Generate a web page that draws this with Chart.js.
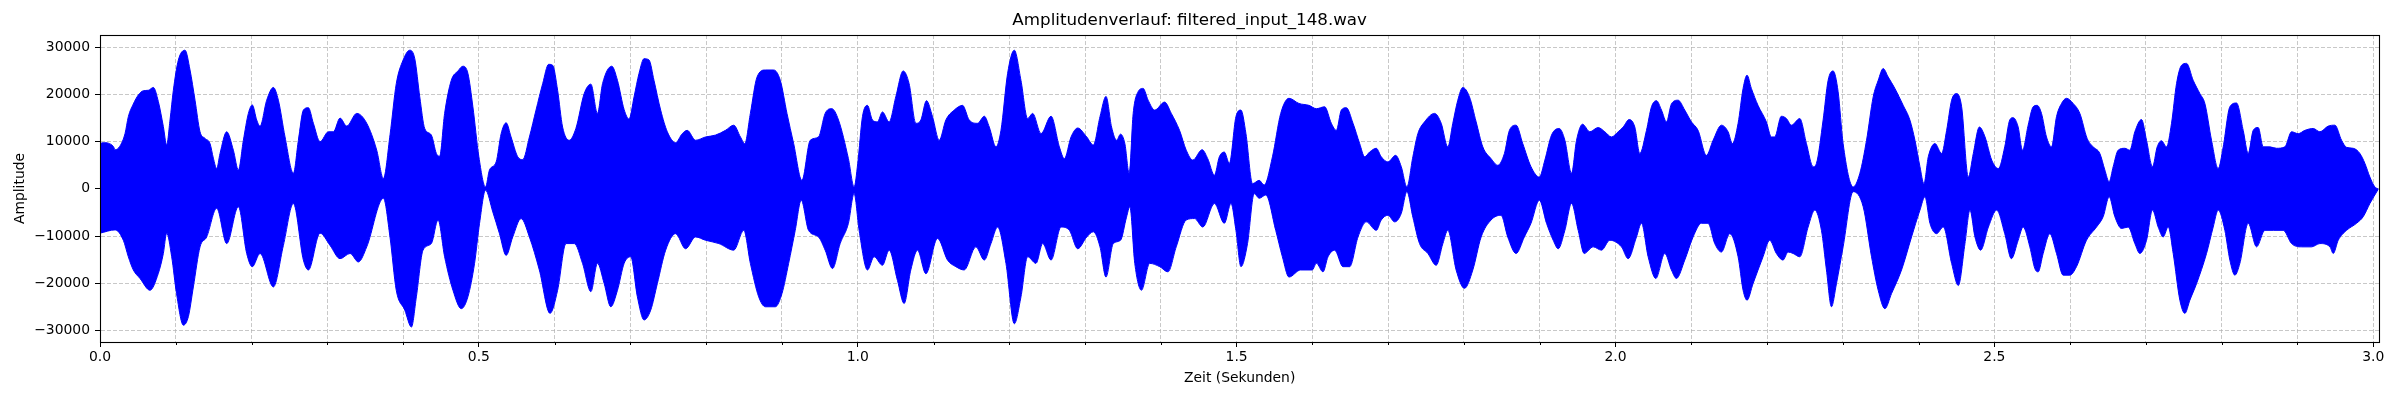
<!DOCTYPE html>
<html>
<head>
<meta charset="utf-8">
<script src="https://cdn.jsdelivr.net/npm/chart.js@4.4.1/dist/chart.umd.min.js"></script>
<style>
  html, body { margin: 0; padding: 0; background: #ffffff; }
  canvas { display: block; }
</style>
</head>
<body>
<canvas id="c" width="2400" height="400"></canvas>
<script>
// ---- Data (envelope of the waveform) ----
const chartTitle = 'Amplitudenverlauf: filtered_input_148.wav';
const xAxisLabel = 'Zeit (Sekunden)';
const yAxisLabel = 'Amplitude';

const xTickLabels = ['0.0', '0.5', '1.0', '1.5', '2.0', '2.5', '3.0'];
const yTickValues = [-30000, -20000, -10000, 0, 10000, 20000, 30000];
const yTickLabels = ['\u221230000', '\u221220000', '\u221210000', '0', '10000', '20000', '30000'];

const upperTimes = [
0.000,0.0044,0.0176,0.020,0.026,0.033,0.0374,0.044,0.0506,0.0572,0.0638,0.0704,0.077,0.0836,0.088,0.0924,0.0968,0.1034,0.1122,0.1188,
0.1254,0.132,0.1386,0.1452,0.1496,0.154,0.1584,0.1672,0.176,0.1826,0.1892,0.1958,0.201,0.2068,0.2112,0.22,0.2288,0.2354,0.2442,0.2552,
0.2618,0.2684,0.275,0.2816,0.2904,0.3014,0.308,0.3168,0.3256,0.3388,0.352,0.3652,0.374,0.3828,0.391,0.400,0.4088,0.4154,0.422,0.4285,
0.4373,0.4439,0.4482,0.4548,0.4636,0.4724,0.479,0.4855,0.4921,0.500,0.5088,0.514,0.5228,0.5294,0.536,0.5425,0.5513,0.5579,0.5667,0.5754,
0.5842,0.5921,0.5974,0.6039,0.6105,0.6193,0.628,0.639,0.6478,0.6565,0.6632,0.6754,0.6829,0.6917,0.6982,0.7048,0.7114,0.718,0.7246,0.7311,
0.7399,0.7487,0.7596,0.7684,0.775,0.786,0.7991,0.8123,0.8254,0.8364,0.8452,0.8509,0.8583,0.8671,0.8781,0.8890,0.8978,0.9066,0.9154,0.9263,
0.9373,0.9482,0.957,0.9658,0.9746,0.9877,0.9952,1.0,1.0062,1.0128,1.0194,1.026,1.0326,1.0414,1.0502,1.0599,1.0678,1.0767,1.0833,1.0907,
1.0987,1.1075,1.1163,1.1273,1.1383,1.1471,1.1581,1.167,1.1736,1.1824,1.189,1.1978,1.2066,1.2154,1.2242,1.2308,1.2419,1.2551,1.2661,1.2727,
1.2815,1.2903,1.3022,1.3109,1.3197,1.3276,1.335,1.3416,1.3468,1.3525,1.3582,1.3635,1.37,1.3766,1.3832,1.3919,1.405,1.4138,1.4247,1.4335,
1.4422,1.4545,1.4619,1.4707,1.4772,1.4838,1.4904,1.4991,1.5057,1.5123,1.521,1.5298,1.5363,1.5473,1.5582,1.5691,1.5823,1.5954,1.6053,1.6162,
1.625,1.6316,1.6382,1.6448,1.6536,1.6624,1.669,1.6755,1.6843,1.6909,1.6997,1.7098,1.7173,1.7247,1.7326,1.7392,1.748,1.7612,1.77,1.7787,
1.7853,1.7919,1.7985,1.8073,1.8161,1.8249,1.8358,1.8446,1.8534,1.86,1.8688,1.8776,1.8885,1.8995,1.9068,1.9156,1.9257,1.9332,1.942,1.9486,
1.9565,1.9662,1.9771,1.9859,1.9947,2.0035,2.0101,2.018,2.0255,2.0321,2.0409,2.0475,2.0541,2.0607,2.0673,2.0738,2.0826,2.0914,2.1002,2.109,
2.12,2.1288,2.1398,2.1486,2.1543,2.1618,2.1684,2.1736,2.1793,2.1881,2.1991,2.2057,2.2101,2.2189,2.2256,2.2322,2.2432,2.252,2.2608,2.2652,
2.274,2.2806,2.2872,2.2938,2.3004,2.3137,2.3225,2.3313,2.3401,2.3467,2.3533,2.3599,2.3687,2.3797,2.3885,2.3952,2.4018,2.407,2.4128,2.4216,
2.4304,2.437,2.4436,2.4502,2.4568,2.4656,2.4722,2.4802,2.4877,2.4965,2.5053,2.5137,2.5203,2.5247,2.5314,2.5371,2.5446,2.5512,2.5564,2.5622,
2.5688,2.5754,2.582,2.5886,2.5952,2.604,2.6128,2.6224,2.6304,2.6392,2.6458,2.6515,2.6568,2.6634,2.6722,2.6788,2.6854,2.6942,2.7008,2.7087,
2.7149,2.7206,2.7272,2.7338,2.7404,2.747,2.7536,2.7624,2.7712,2.7778,2.7866,2.7954,2.802,2.8108,2.8196,2.8284,2.835,2.8416,2.8482,2.8548,
2.8636,2.8724,2.8834,2.8922,2.901,2.9098,2.9208,2.9296,2.9406,2.9494,2.9582,2.9648,2.9736,2.9824,2.989,2.9956,3.0022,3.0066];

const upperValues = [
9600,9800,9000,8300,9000,11700,15300,18000,19900,20800,20900,21500,18500,13200,9300,14600,20900,27300,29400,25200,
18800,12100,10700,9600,6500,4300,7500,12100,8200,4000,10300,16000,17800,14600,13300,18800,21500,18800,11000,3300,
10300,16700,17200,13900,10000,12100,12100,15000,13300,16000,13900,8200,2200,11500,22300,27300,29400,27600,19500,12800,
11400,7500,6900,16000,23000,25000,26000,24500,17400,6800,400,4000,5700,11700,14000,11000,6800,6200,11000,16700,
22300,26400,26200,20900,13100,10300,12800,20200,22200,16000,22300,26000,23000,16800,14800,19500,24500,27600,27300,23000,
16700,12100,9800,11700,12400,10300,11000,11400,12400,13500,11000,9600,16000,23700,25200,25200,23000,16000,9600,1800,
10300,11000,16000,17000,14600,6400,400,5400,15300,17700,14600,14200,16300,14200,19500,25000,22300,13900,14600,18700,
15300,10300,14600,16700,17700,14600,13900,15400,13100,8900,12400,24500,29400,23000,14900,16000,11700,15400,8900,6400,
11000,12900,11000,9300,15300,19600,13100,10300,11600,9600,3300,16000,20600,21300,18800,16700,18400,16000,12400,8200,
6100,8300,6400,2900,6800,7800,5400,15300,16700,11700,1100,1800,800,6800,16000,19200,18100,17700,17000,17400,
13900,12400,16700,17200,13900,9600,6800,7800,8600,6800,5700,7100,4700,400,6800,11700,14200,16000,13900,8900,
13900,18800,21500,19500,14200,8900,6400,5000,7500,12400,13500,9600,4700,2500,6100,11400,12800,10300,3300,10300,
13700,12100,13000,12100,11000,12100,13100,14700,13100,7500,12400,17400,18700,16700,14200,18000,18800,16700,14200,12400,
7100,10300,13500,12100,9600,13900,21300,24100,21300,17700,14200,11000,11000,15400,14900,13500,14900,9600,4700,5400,
14600,23000,25000,20600,9600,400,3300,10300,19500,23000,25500,23700,21300,17700,14600,10300,4700,1100,6800,9600,
7500,12400,18800,20200,17400,2500,7500,13100,11000,6100,4300,8900,14600,15100,13100,8200,13500,17400,17700,16000,
11000,8900,15300,18100,19200,18100,16000,10700,8900,7500,4000,1500,4700,8200,8600,8200,12100,14700,10300,4700,
8900,10200,8900,13900,22300,26200,26600,23000,20200,18100,10300,4300,8900,17400,18200,12400,7500,12400,13000,8900,
8900,8600,8900,12100,11700,12400,12800,12100,13300,13500,10300,8800,8600,7500,5400,2500,400,0];

const lowerTimes = [
0.000,0.020,0.0308,0.0374,0.044,0.0528,0.066,0.077,0.0836,0.088,0.0946,0.101,0.110,0.1166,0.1232,0.132,0.1408,0.154,0.1672,0.1826,
0.1936,0.201,0.2112,0.2288,0.242,0.2552,0.2684,0.275,0.2904,0.3036,0.3168,0.330,0.341,0.352,0.374,0.3827,0.391,0.4022,0.411,0.4175,
0.4263,0.4373,0.4461,0.4548,0.4658,0.4768,0.4855,0.4943,0.5009,0.5088,0.5184,0.5272,0.536,0.5447,0.5557,0.5667,0.5798,0.5939,0.6039,0.615,
0.6259,0.6368,0.6478,0.6565,0.6654,0.6741,0.6829,0.6917,0.7004,0.7092,0.718,0.7268,0.7355,0.7465,0.7596,0.7728,0.786,0.7991,0.8167,0.8364,
0.8496,0.8583,0.8693,0.8781,0.8912,0.9,0.9088,0.9175,0.9254,0.9351,0.9482,0.957,0.9667,0.9768,0.9877,0.9952,1.0018,1.0128,1.0216,1.0326,
1.0414,1.0524,1.0612,1.07,1.0789,1.0899,1.1053,1.1185,1.1295,1.1405,1.1559,1.167,1.1758,1.1846,1.1956,1.2066,1.2154,1.2242,1.2352,1.2441,
1.2551,1.2683,1.2793,1.2903,1.3022,1.3109,1.3197,1.3276,1.3372,1.3468,1.3547,1.3591,1.3656,1.3744,1.3853,1.3985,1.4094,1.4203,1.4335,1.4444,
1.4554,1.4707,1.4838,1.4926,1.4991,1.5057,1.5144,1.5232,1.5298,1.5385,1.5516,1.5604,1.5691,1.5845,1.5998,1.6053,1.614,1.6206,1.6294,1.6404,
1.6492,1.6602,1.6711,1.6843,1.6909,1.6997,1.7085,1.7173,1.7247,1.7326,1.7414,1.7524,1.7634,1.7722,1.7787,1.7897,1.8007,1.8117,1.8227,1.8358,
1.849,1.8578,1.8688,1.8797,1.8885,1.8995,1.909,1.9178,1.9244,1.9332,1.942,1.9508,1.9587,1.9706,1.9815,1.9925,2.0079,2.0167,2.0277,2.0343,
2.0431,2.0532,2.0651,2.0738,2.0804,2.0914,2.1024,2.1134,2.1222,2.131,2.1398,2.1508,2.1618,2.1684,2.1736,2.1815,2.1947,2.2035,2.2123,2.2211,
2.2278,2.2344,2.2432,2.2542,2.263,2.2718,2.2784,2.285,2.2916,2.3004,2.3137,2.3269,2.3379,2.3467,2.3555,2.3643,2.3775,2.3907,2.4018,2.4084,
2.415,2.4238,2.4326,2.4436,2.4524,2.4612,2.4678,2.4744,2.4819,2.4921,2.5031,2.5137,2.5225,2.5314,2.538,2.5468,2.5534,2.5578,2.5644,2.5732,
2.582,2.5908,2.5996,2.6084,2.6216,2.6348,2.6436,2.6515,2.659,2.6678,2.6766,2.6854,2.692,2.7008,2.7087,2.7162,2.7228,2.7294,2.736,2.7448,
2.7514,2.758,2.7668,2.78,2.7888,2.7954,2.8042,2.8108,2.8174,2.824,2.835,2.846,2.857,2.868,2.8812,2.8922,2.9054,2.9186,2.9296,2.9428,
2.9472,2.9538,2.9648,2.978,2.9868,2.9956,3.0066];

const lowerValues = [
-9400,-8700,-10900,-14400,-17200,-19000,-21500,-17900,-13700,-9400,-14400,-22200,-28900,-27100,-20800,-12300,-10200,-4100,-11600,-3800,
-13700,-16500,-13700,-20800,-12000,-3100,-15100,-17200,-9400,-12000,-14800,-13700,-15500,-12300,-2000,-10200,-21500,-25700,-29300,-22900,
-13000,-11600,-6600,-14400,-21500,-25400,-22900,-15800,-7300,-300,-4900,-9500,-14100,-10200,-6300,-10200,-17200,-26400,-21500,-11600,
-11600,-15800,-21800,-15800,-20100,-25000,-21500,-15800,-14400,-22900,-27800,-25700,-20100,-13000,-9500,-12700,-10200,-10900,-11600,-13000,
-8800,-15800,-22900,-25000,-25000,-22200,-15800,-8800,-2400,-8800,-10200,-13000,-16900,-11600,-7300,-1000,-8800,-17200,-14400,-16200,
-13000,-19400,-24300,-17200,-13000,-18000,-10500,-15100,-16500,-17200,-12300,-15100,-11600,-8100,-15800,-28600,-22900,-14400,-15800,-11600,
-15100,-8100,-8800,-12700,-10200,-9100,-12300,-18700,-11600,-10900,-6000,-3800,-15800,-21500,-15800,-16500,-17600,-12300,-6600,-6300,
-8100,-3100,-7300,-3100,-8800,-16500,-11600,-1000,-2000,-1300,-8800,-14400,-18700,-17200,-17200,-15800,-17600,-14400,-13000,-16500,
-16500,-10200,-7000,-8800,-6600,-5600,-7000,-5200,-600,-6000,-11600,-13700,-16200,-11600,-8800,-17200,-21100,-17200,-10200,-6600,
-5600,-10200,-13700,-10200,-7300,-2400,-7300,-10900,-12700,-8800,-3100,-8800,-13700,-12300,-13000,-10900,-12300,-14800,-10200,-7300,
-14400,-19000,-13700,-17200,-19000,-15100,-10200,-7300,-7300,-11600,-13400,-9500,-14400,-21500,-23600,-20100,-14400,-10900,-13700,-15100,
-13400,-13700,-14400,-8100,-4500,-8800,-17200,-25000,-20100,-12300,-600,-3800,-14400,-21500,-25400,-22200,-17200,-10200,-4500,-1700,
-7300,-9500,-8100,-15800,-20500,-11600,-4500,-10200,-13000,-8100,-4500,-9500,-14800,-10900,-8100,-12300,-16900,-17600,-13700,-9500,
-13700,-18300,-18300,-16500,-10900,-8100,-5900,-1700,-5900,-8400,-8100,-11600,-13700,-10900,-4500,-8100,-10200,-8100,-13700,-23600,
-26400,-23600,-20100,-13700,-8100,-4500,-8800,-15100,-18300,-15800,-7300,-12300,-8800,-8800,-8800,-11600,-12300,-12300,-11600,-12300,
-13700,-10900,-8800,-7300,-5900,-3100,-100];

// axis ranges
const xMin = 0, xMax = 3.008;
const yMin = -32470, yMax = 32610;
const xTickStep = 0.1;   // grid / minor tick spacing; labels every 0.5

// ---- chart ----
Chart.defaults.font.family = "'DejaVu Sans', 'Liberation Sans', sans-serif";
Chart.defaults.color = '#000000';

const toPoints = (ts, vs) => ts.map((t, i) => ({ x: t, y: vs[i] }));

const isMajorX = v => Math.abs(v * 2 - Math.round(v * 2)) < 1e-6;
const gridColor = 'rgba(176,176,176,0.7)';

const framePlugin = {
  id: 'frame',
  afterDatasetsDraw(chart) {
    const { ctx, chartArea: a, scales } = chart;
    ctx.save();
    // minor x ticks (shorter)
    ctx.strokeStyle = '#000';
    ctx.lineWidth = 1;
    scales.x.ticks.forEach(t => {
      if (!isMajorX(t.value)) {
        const px = Math.round(scales.x.getPixelForValue(t.value)) + 0.5;
        ctx.beginPath();
        ctx.moveTo(px, a.bottom);
        ctx.lineTo(px, a.bottom + 3);
        ctx.stroke();
      }
    });
    // axes frame (all four spines)
    ctx.lineWidth = 1.1;
    ctx.strokeRect(Math.round(a.left) + 0.5, Math.round(a.top) + 0.5,
                   Math.round(a.right - a.left), Math.round(a.bottom - a.top));
    ctx.restore();
  }
};

new Chart(document.getElementById('c'), {
  type: 'line',
  data: {
    datasets: [
      {
        label: 'upper',
        data: toPoints(upperTimes, upperValues),
        borderColor: '#0000ff',
        backgroundColor: '#0000ff',
        borderWidth: 1,
        pointRadius: 0,
        cubicInterpolationMode: 'monotone',
        fill: '+1'
      },
      {
        label: 'lower',
        data: toPoints(lowerTimes, lowerValues),
        borderColor: '#0000ff',
        backgroundColor: '#0000ff',
        borderWidth: 1,
        pointRadius: 0,
        cubicInterpolationMode: 'monotone',
        fill: false
      }
    ]
  },
  options: {
    responsive: false,
    animation: false,
    devicePixelRatio: 1,
    layout: { padding: { left: 0, right: 20.7, top: 0, bottom: 0 } },
    plugins: {
      legend: { display: false },
      tooltip: { enabled: false },
      title: {
        display: true,
        text: chartTitle,
        color: '#000',
        font: { size: 16.7, weight: 'normal' },
        padding: { top: 10.6, bottom: 4.4 }
      }
    },
    scales: {
      x: {
        type: 'linear',
        min: xMin,
        max: xMax,
        afterFit(s) { s.height = 58; },
        afterBuildTicks(s) {
          const t = [];
          for (let k = 0; k * xTickStep <= xMax + 1e-9; k++) t.push({ value: Math.round(k * xTickStep * 10) / 10 });
          s.ticks = t;
        },
        ticks: {
          autoSkip: false,
          maxRotation: 0,
          padding: 2,
          color: '#000',
          font: { size: 13.9 },
          callback(v) {
            if (!isMajorX(v)) return '';
            const idx = Math.round(v * 2);
            return xTickLabels[idx] !== undefined ? xTickLabels[idx] : '';
          }
        },
        grid: {
          color: gridColor,
          lineWidth: 1,
          drawTicks: true,
          tickLength: 5,
          tickWidth: 1,
          tickBorderDash: [],
          tickColor: ctx => (ctx.tick && isMajorX(ctx.tick.value)) ? '#000' : 'rgba(0,0,0,0)'
        },
        border: { display: true, color: '#000', width: 1, dash: [4, 2] },
        title: {
          display: true,
          text: xAxisLabel,
          color: '#000',
          font: { size: 13.9 },
          padding: { top: 0, bottom: 13.7 }
        }
      },
      y: {
        type: 'linear',
        min: yMin,
        max: yMax,
        afterFit(s) { s.width = 100; },
        afterBuildTicks(s) {
          s.ticks = yTickValues.map(v => ({ value: v }));
        },
        ticks: {
          autoSkip: false,
          padding: 5,
          color: '#000',
          font: { size: 13.9 },
          callback(v) {
            const idx = yTickValues.indexOf(v);
            return idx >= 0 ? yTickLabels[idx] : '';
          }
        },
        grid: {
          color: gridColor,
          lineWidth: 1,
          drawTicks: true,
          tickLength: 5,
          tickWidth: 1,
          tickBorderDash: [],
          tickColor: '#000'
        },
        border: { display: true, color: '#000', width: 1, dash: [4, 2] },
        title: {
          display: true,
          text: yAxisLabel,
          color: '#000',
          font: { size: 13.9 },
          padding: { top: 11.6, bottom: 0 }
        }
      }
    }
  },
  plugins: [framePlugin]
});
</script>
</body>
</html>
